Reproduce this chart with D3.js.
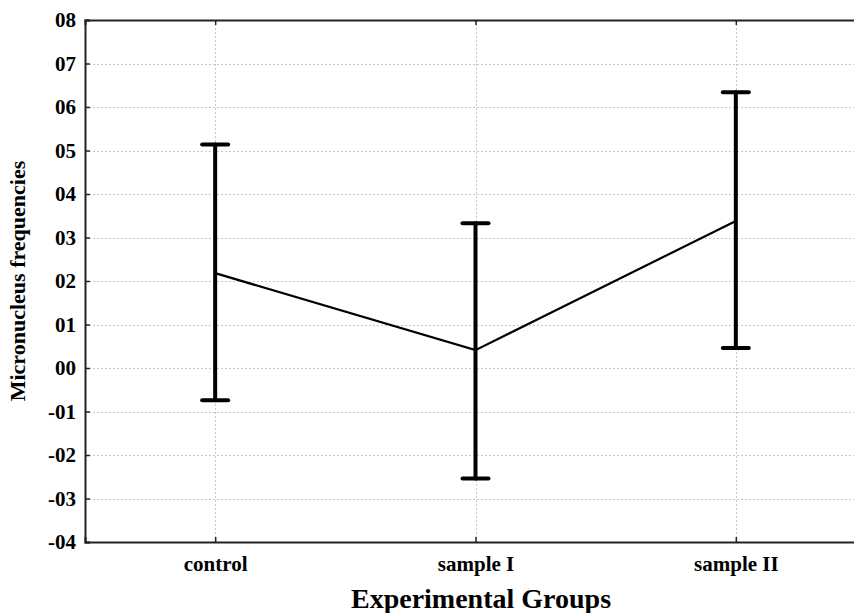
<!DOCTYPE html>
<html>
<head>
  <meta charset="utf-8">
  <title>Micronucleus frequencies</title>
  <script src="https://cdn.jsdelivr.net/npm/d3@7"></script>
  <style>
    body { margin: 0; background: #fff; }
    text { font-family: "Liberation Serif", "DejaVu Serif", serif; font-weight: bold; fill: #000; }
  </style>
</head>
<body>
<div id="chart"></div>
<script>
// data
var groups = ["control", "sample I", "sample II"];
var means = [0.218, 0.041, 0.338];
var upper = [0.514, 0.333, 0.634];
var lower = [-0.074, -0.254, 0.046];
var yTicks = [0.8, 0.7, 0.6, 0.5, 0.4, 0.3, 0.2, 0.1, 0.0, -0.1, -0.2, -0.3, -0.4];
var yTickLabels = ["08", "07", "06", "05", "04", "03", "02", "01", "00", "-01", "-02", "-03", "-04"];

var width = 854, height = 613;
// plot area, it runs off the right edge in the original
var pLeft = 85, pTop = 20, pBottom = 542, pRight = 866;

var svg = d3.select("#chart").append("svg")
    .attr("width", width)
    .attr("height", height);

var x = d3.scalePoint().domain(groups).range([pLeft, pRight]).padding(0.5);
var y = d3.scaleLinear().domain([-0.4, 0.8]).range([pBottom, pTop]);

// grid
var grid = svg.append("g").attr("stroke", "#c8c8c8").attr("stroke-width", 1).attr("stroke-dasharray", "2,2");
grid.selectAll(".h").data(yTicks.slice(1, -1)).enter().append("line")
    .attr("x1", pLeft).attr("x2", width)
    .attr("y1", function(d) { return Math.round(y(d)) + 0.5; })
    .attr("y2", function(d) { return Math.round(y(d)) + 0.5; });
grid.selectAll(".v").data(groups).enter().append("line")
    .attr("x1", function(d) { return Math.round(x(d)) + 0.5; })
    .attr("x2", function(d) { return Math.round(x(d)) + 0.5; })
    .attr("y1", pTop).attr("y2", pBottom);

// axes with inward ticks
var yAxis = svg.append("g")
    .attr("transform", "translate(" + pLeft + ",0)")
    .call(d3.axisLeft(y).tickValues(yTicks).tickSize(-5).tickPadding(9)
      .tickFormat(function(d, i) { return yTickLabels[i]; }));
yAxis.selectAll("text").style("font-size", "21px");

var xAxis = svg.append("g")
    .attr("transform", "translate(0," + pBottom + ")")
    .call(d3.axisBottom(x).tickSize(-5).tickPadding(14));
xAxis.selectAll("text").style("font-size", "21px");

svg.append("g")
    .attr("transform", "translate(0," + pTop + ")")
    .call(d3.axisTop(x).tickSize(-5).tickFormat(""));

svg.selectAll(".domain").attr("stroke", "#222").attr("stroke-width", 2);
svg.selectAll(".tick line").attr("stroke", "#222").attr("stroke-width", 1.5);

// mean line
var line = d3.line()
    .x(function(d, i) { return x(groups[i]); })
    .y(function(d) { return y(d); });
svg.append("path")
    .datum(means)
    .attr("fill", "none")
    .attr("stroke", "#000")
    .attr("stroke-width", 2.2)
    .attr("d", line);

// error bars
var bars = svg.append("g").attr("stroke", "#000").attr("stroke-linecap", "round");
bars.selectAll(".stem").data(groups).enter().append("line")
    .attr("x1", function(d) { return x(d); })
    .attr("x2", function(d) { return x(d); })
    .attr("y1", function(d, i) { return y(upper[i]); })
    .attr("y2", function(d, i) { return y(lower[i]); })
    .attr("stroke-width", 4);
bars.selectAll(".capU").data(groups).enter().append("line")
    .attr("x1", function(d) { return x(d) - 13; })
    .attr("x2", function(d) { return x(d) + 13; })
    .attr("y1", function(d, i) { return y(upper[i]); })
    .attr("y2", function(d, i) { return y(upper[i]); })
    .attr("stroke-width", 4);
bars.selectAll(".capL").data(groups).enter().append("line")
    .attr("x1", function(d) { return x(d) - 13; })
    .attr("x2", function(d) { return x(d) + 13; })
    .attr("y1", function(d, i) { return y(lower[i]); })
    .attr("y2", function(d, i) { return y(lower[i]); })
    .attr("stroke-width", 4);

// titles
svg.append("text")
    .attr("x", 481).attr("y", 608)
    .attr("text-anchor", "middle")
    .style("font-size", "28px")
    .text("Experimental Groups");

svg.append("text")
    .attr("transform", "translate(25,281) rotate(-90)")
    .attr("text-anchor", "middle")
    .style("font-size", "22px")
    .text("Micronucleus frequencies");
</script>
</body>
</html>
